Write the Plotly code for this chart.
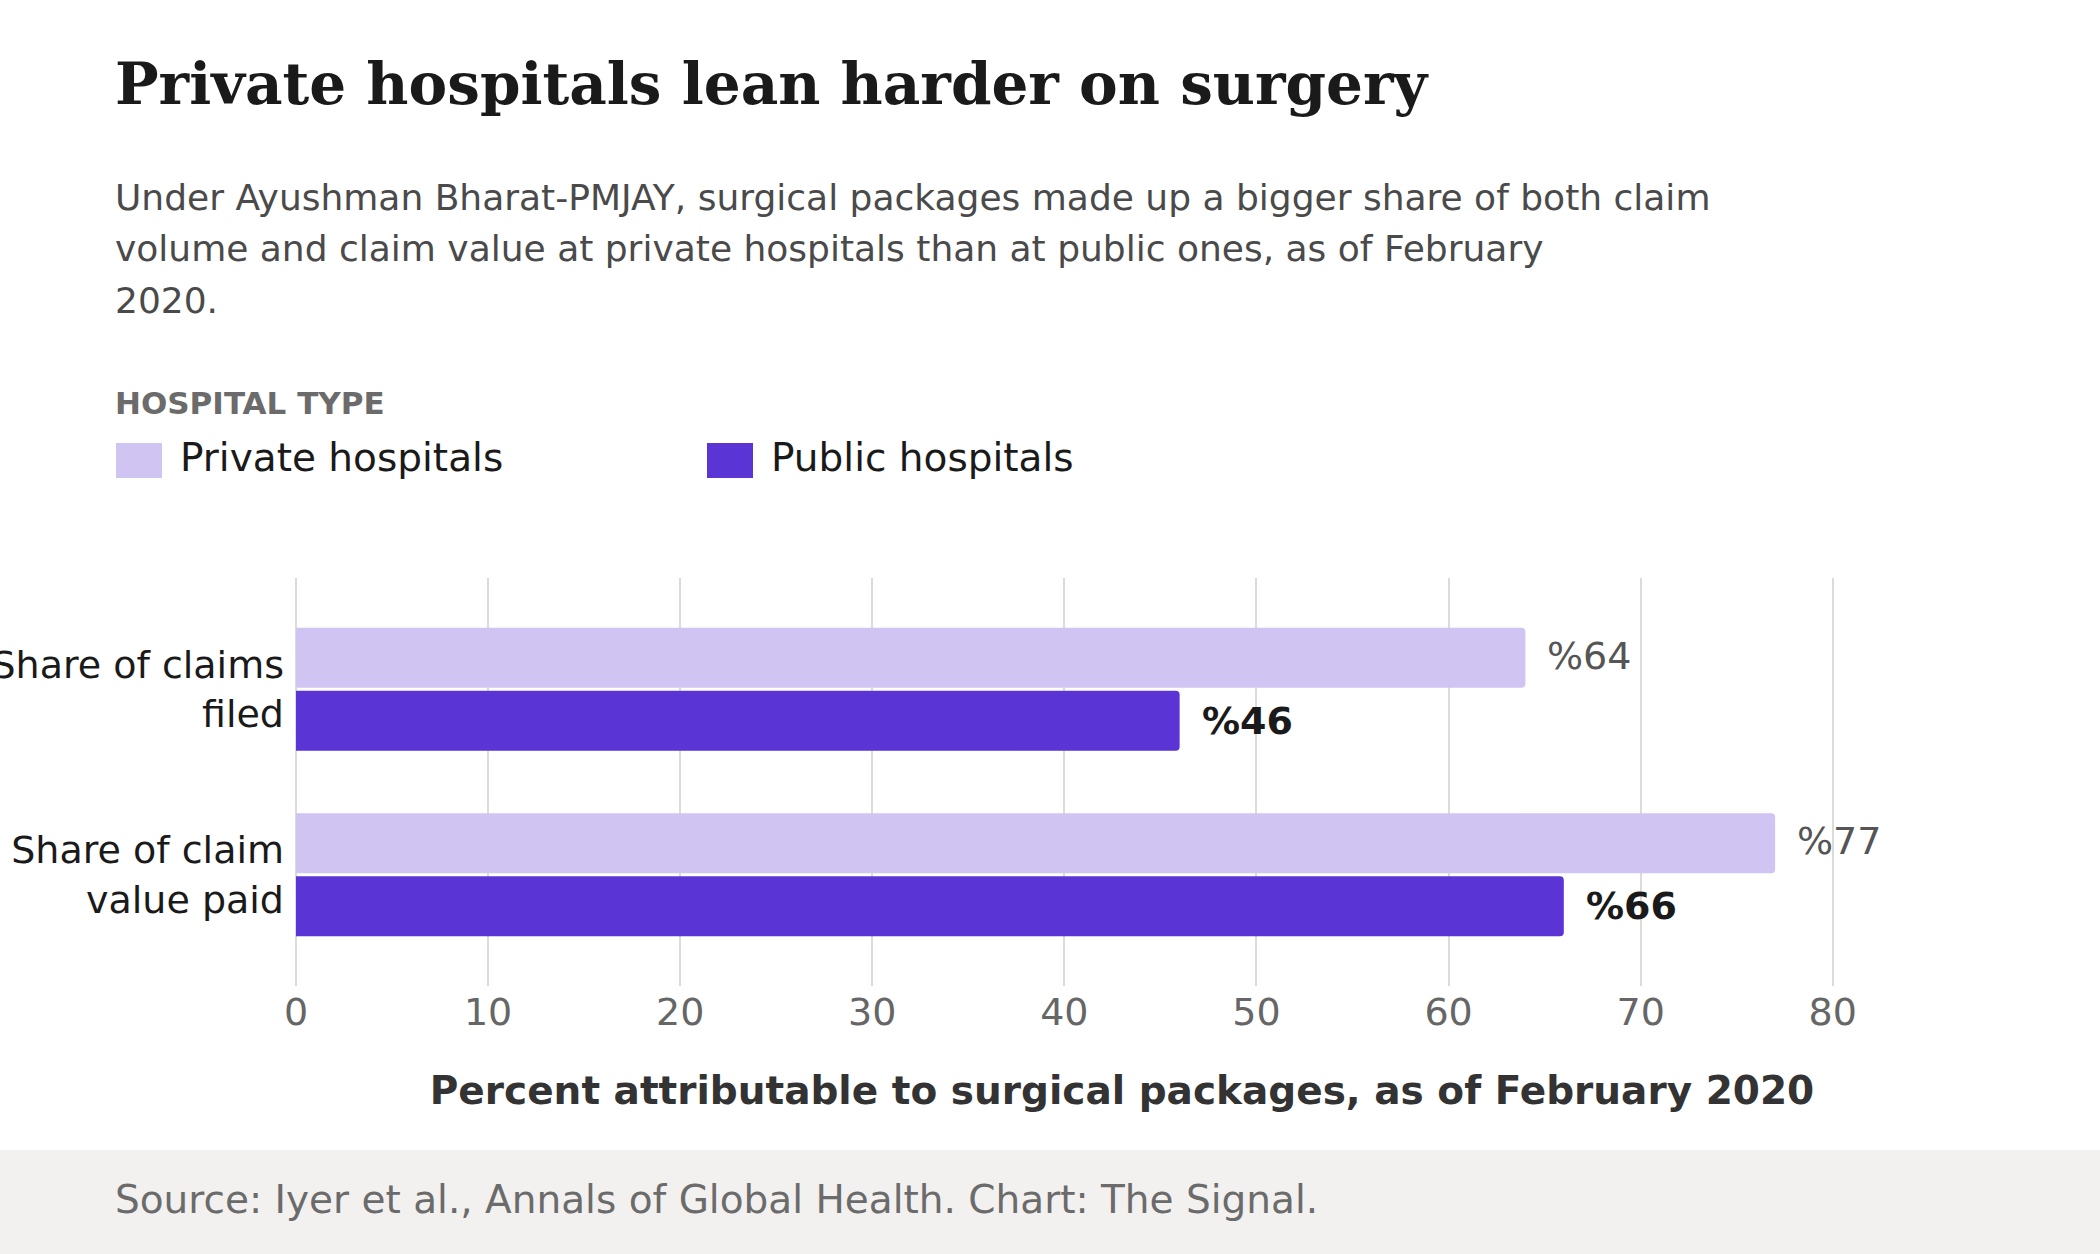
import plotly.graph_objects as go

# ---- data ----
categories = ["Share of claims<br>filed", "Share of claim<br>value paid"]
series_names = ["Private hospitals", "Public hospitals"]
private_values = [64, 77]
public_values = [46, 66]
x_ticks = [0, 10, 20, 30, 40, 50, 60, 70, 80]

title_text = "Private hospitals lean harder on surgery"
subtitle_lines = [
    "Under Ayushman Bharat-PMJAY, surgical packages made up a bigger share of both claim",
    "volume and claim value at private hospitals than at public ones, as of February",
    "2020.",
]
legend_title = "HOSPITAL TYPE"
x_title = "Percent attributable to surgical packages, as of February 2020"
source_text = "Source: Iyer et al., Annals of Global Health. Chart: The Signal."

# ---- styles ----
W, H = 2100, 1254
L, R, T, B = 296, 152, 578, 268
PW, PH = W - L - R, H - T - B
C_PRIVATE = "#d0c4f2"
C_PUBLIC = "#5a34d4"
SANS = "DejaVu Sans"
SERIF = "DejaVu Serif"
BARGAP = 0.32


def px(xp):
    return (xp - L) / PW


def py(yp):
    return (H - B - yp) / PH


fig = go.Figure()
fig.add_trace(go.Bar(
    y=categories, x=private_values, name=series_names[0], orientation="h",
    marker=dict(color=C_PRIVATE, line=dict(width=0), cornerradius=4),
    hoverinfo="x+y",
))
fig.add_trace(go.Bar(
    y=categories, x=public_values, name=series_names[1], orientation="h",
    marker=dict(color=C_PUBLIC, line=dict(width=0), cornerradius=4),
    hoverinfo="x+y",
))

annotations = []
off = (1 - BARGAP) / 4
for i, cat in enumerate(categories):
    annotations.append(dict(
        x=private_values[i], y=i - off, xref="x", yref="y", xanchor="left", yanchor="middle",
        xshift=20, yshift=2, text="%" + str(private_values[i]), showarrow=False,
        font=dict(family=SANS, size=38, color="#555555"),
    ))
    annotations.append(dict(
        x=public_values[i], y=i + off, xref="x", yref="y", xanchor="left", yanchor="middle",
        xshift=20, text="<b>%" + str(public_values[i]) + "</b>", showarrow=False,
        font=dict(family=SANS, size=38, color="#1a1a1a"),
    ))

# title + subtitle
annotations.append(dict(
    x=px(113), y=py(84), xref="paper", yref="paper", xanchor="left", yanchor="middle",
    text="<b>" + title_text + "</b>", showarrow=False,
    font=dict(family=SERIF, size=58, color="#1a1a1a"),
))
for k, line in enumerate(subtitle_lines):
    annotations.append(dict(
        x=px(113), y=py(197 + k * 51.7), xref="paper", yref="paper", xanchor="left", yanchor="middle",
        text=line, showarrow=False, font=dict(family=SANS, size=36, color="#4a4a4a"),
    ))
annotations.append(dict(
    x=px(113), y=py(403), xref="paper", yref="paper", xanchor="left", yanchor="middle",
    text="<b>" + legend_title + "</b>", showarrow=False,
    font=dict(family=SANS, size=31, color="#6b6b6b"),
))

# custom legend
shapes = []
legend_x = [116, 707]
for name, color, lx in zip(series_names, [C_PRIVATE, C_PUBLIC], legend_x):
    shapes.append(dict(
        type="rect", xref="paper", yref="paper",
        x0=px(lx), x1=px(lx + 46), y0=py(478), y1=py(443),
        fillcolor=color, line=dict(width=0),
    ))
    annotations.append(dict(
        x=px(lx + 62), y=py(457), xref="paper", yref="paper", xanchor="left", yanchor="middle",
        text=name, showarrow=False, font=dict(family=SANS, size=39, color="#1a1a1a"),
    ))

# footer band
shapes.append(dict(
    type="rect", xref="paper", yref="paper", layer="below",
    x0=px(0), x1=px(W), y0=py(H), y1=py(1150),
    fillcolor="#f2f1ef", line=dict(width=0),
))
annotations.append(dict(
    x=px(113), y=py(1199), xref="paper", yref="paper", xanchor="left", yanchor="middle",
    text=source_text, showarrow=False, font=dict(family=SANS, size=39, color="#6b6b6b"),
))

fig.update_layout(
    width=W, height=H,
    margin=dict(l=L, r=R, t=T, b=B, autoexpand=False),
    paper_bgcolor="white", plot_bgcolor="white",
    barmode="group", bargap=BARGAP, bargroupgap=0.05,
    showlegend=False,
    font=dict(family=SANS),
    annotations=annotations, shapes=shapes,
    xaxis=dict(
        range=[0, 86], tickvals=x_ticks, ticks="", showline=False,
        showgrid=True, gridcolor="#dcdbd7", gridwidth=2,
        zeroline=True, zerolinecolor="#dcdbd7", zerolinewidth=2,
        tickfont=dict(family=SANS, size=38, color="#666666"),
        title=dict(text="<b>" + x_title + "</b>", standoff=43,
                   font=dict(family=SANS, size=39, color="#333333")),
        automargin=False, fixedrange=True,
    ),
    yaxis=dict(
        range=[1.6, -0.6], type="category", ticks="", showline=False, showgrid=False,
        zeroline=False, ticklabelstandoff=11,
        tickfont=dict(family=SANS, size=38, color="#1a1a1a"),
        automargin=False, fixedrange=True,
    ),
)

fig.write_html(
    "out.html",
    config={"displayModeBar": False},
    post_script="document.body.style.margin='0';document.body.style.overflow='hidden';",
)
